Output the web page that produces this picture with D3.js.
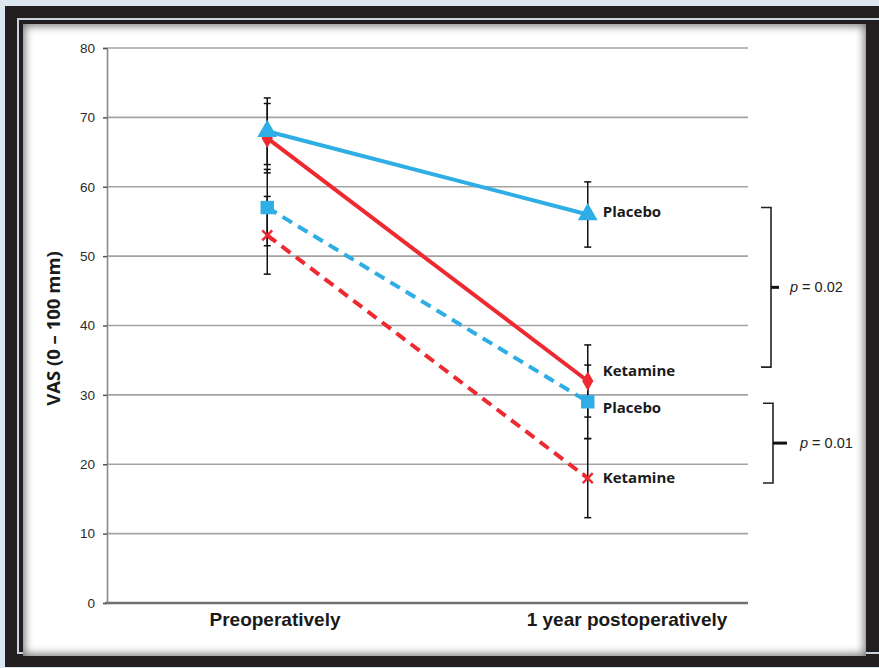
<!DOCTYPE html>
<html>
<head>
<meta charset="utf-8">
<script src="https://cdn.jsdelivr.net/npm/d3@7"></script>
<style>
  html, body { margin: 0; padding: 0; }
  body { width: 879px; height: 668px; background: #dbe5f0; position: relative; overflow: hidden; }
  #outer { position: absolute; left: 5px; top: 6px; width: 900px; height: 661px; background: #231f20; }
  #rule { position: absolute; left: 12px; top: 12px; width: 900px; height: 636px; border: 2px solid #c9d3de; box-sizing: border-box; }
  #panel { position: absolute; left: 18px; top: 18px; width: 843px; height: 632px; background: #fff; box-shadow: inset 0 0 9px 2px #777; }
  svg { position: absolute; left: 0; top: 0; }
</style>
</head>
<body>
<div id="outer"><div id="rule"></div><div id="panel"></div></div>
<svg id="chart" width="879" height="668"></svg>
<script>
// categories and ticks
var categories = ['Preoperatively', '1 year postoperatively'];
var yTicks = [0, 10, 20, 30, 40, 50, 60, 70, 80];

// series: mean values and error (+/-)
var placeboSolid = [68, 56];
var placeboSolidErr = [4.8, 4.7];
var ketamineSolid = [67, 32];
var ketamineSolidErr = [5.0, 5.2];
var placeboDashed = [57, 29];
var placeboDashedErr = [5.5, 5.3];
var ketamineDashed = [53, 18];
var ketamineDashedErr = [5.6, 5.7];

// p-value brackets (VAS units)
var bracketTop = [57, 28.8];
var bracketBottom = [34, 17.3];
var bracketLabels = ['0.02', '0.01'];

var blue = '#2eaee4';
var red = '#ee2a30';

var series = [
  { name: 'Placebo', values: placeboSolid, err: placeboSolidErr, color: blue, dash: null, marker: 'triangle' },
  { name: 'Ketamine', values: ketamineSolid, err: ketamineSolidErr, color: red, dash: null, marker: 'diamond' },
  { name: 'Placebo', values: placeboDashed, err: placeboDashedErr, color: blue, dash: '11,7', marker: 'square' },
  { name: 'Ketamine', values: ketamineDashed, err: ketamineDashedErr, color: red, dash: '11,7', marker: 'cross' }
];

var svg = d3.select('#chart');

var x = d3.scaleBand().domain(categories).range([107, 748]);
var y = d3.scaleLinear().domain([0, 80]).range([603, 48]);
var labelX = d3.scalePoint().domain(categories).range([275, 627]);
var cx = function(i) { return x(categories[i]) + x.bandwidth() / 2; };

/**
 * Gridlines
 */
svg.append('g').selectAll('line')
  .data(yTicks.filter(function(t) { return t > 0; }))
  .enter().append('line')
  .attr('x1', 107).attr('x2', 748)
  .attr('y1', function(d) { return y(d); }).attr('y2', function(d) { return y(d); })
  .attr('stroke', '#a3a3a3').attr('stroke-width', 1.6);

/**
 * Y axis
 */
var yAxis = svg.append('g')
  .attr('transform', 'translate(107,0)')
  .call(d3.axisLeft(y).tickValues(yTicks).tickSize(4).tickPadding(8));
yAxis.select('.domain').attr('stroke', '#8a8a8a').attr('stroke-width', 1.6);
yAxis.selectAll('.tick line').attr('stroke', '#555').attr('stroke-width', 1.5);
yAxis.selectAll('.tick text')
  .attr('font-family', 'Liberation Sans Narrow, Liberation Sans, sans-serif')
  .attr('font-size', 13.5).attr('fill', '#2a2a2a');

// x axis line
svg.append('line')
  .attr('x1', 105).attr('x2', 748)
  .attr('y1', y(0)).attr('y2', y(0))
  .attr('stroke', '#707070').attr('stroke-width', 2.6);

// category labels
svg.append('g').selectAll('text')
  .data(categories)
  .enter().append('text')
  .attr('x', function(d) { return labelX(d); })
  .attr('y', 626)
  .attr('text-anchor', 'middle')
  .attr('font-family', 'Liberation Sans Narrow, Liberation Sans, sans-serif')
  .attr('font-weight', 'bold').attr('font-size', 19).attr('fill', '#1a1a1a')
  .text(function(d) { return d; });

// y label
svg.append('text')
  .attr('transform', 'translate(60,' + (y(40) + 3) + ') rotate(-90)')
  .attr('text-anchor', 'middle')
  .attr('font-family', 'Open Sans, sans-serif')
  .attr('font-weight', 'bold').attr('font-size', 18.5).attr('fill', '#1a1a1a')
  .text('VAS (0 \u2013 100 mm)');

/**
 * Lines
 */
var line = d3.line()
  .x(function(d, i) { return cx(i); })
  .y(function(d) { return y(d); });

svg.append('g').selectAll('path')
  .data(series)
  .enter().append('path')
  .attr('d', function(s) { return line(s.values); })
  .attr('fill', 'none')
  .attr('stroke', function(s) { return s.color; })
  .attr('stroke-width', 4)
  .attr('stroke-dasharray', function(s) { return s.dash; });

/**
 * Error bars
 */
var errData = [];
series.forEach(function(s) {
  s.values.forEach(function(v, i) { errData.push({ i: i, lo: v - s.err[i], hi: v + s.err[i] }); });
});
var eb = svg.append('g').attr('stroke', '#111').attr('stroke-width', 1.5);
errData.forEach(function(e) {
  eb.append('line').attr('x1', cx(e.i)).attr('x2', cx(e.i)).attr('y1', y(e.hi)).attr('y2', y(e.lo));
  [e.lo, e.hi].forEach(function(v) {
    eb.append('line').attr('x1', cx(e.i) - 3.5).attr('x2', cx(e.i) + 3.5).attr('y1', y(v)).attr('y2', y(v));
  });
});

/**
 * Markers (drawn back to front so the triangle sits on the diamond)
 */
var markerOrder = [1, 0, 2, 3];
var symbols = { triangle: d3.symbolTriangle, diamond: d3.symbolDiamond, square: d3.symbolSquare };
var sizes = { triangle: 170, diamond: 110, square: 180 };
markerOrder.forEach(function(k) {
  var s = series[k];
  s.values.forEach(function(v, i) {
    var g = svg.append('g').attr('transform', 'translate(' + cx(i) + ',' + y(v) + ')');
    if (s.marker === 'cross') {
      g.append('path').attr('d', 'M-5,-5L5,5M-5,5L5,-5')
        .attr('stroke', s.color).attr('stroke-width', 2.4);
    } else {
      g.append('path').attr('d', d3.symbol().type(symbols[s.marker]).size(sizes[s.marker])())
        .attr('fill', s.color);
    }
  });
});

// series labels at end of lines
var labelY = [212, 371, 408, 478];
svg.append('g').selectAll('text')
  .data(series)
  .enter().append('text')
  .attr('x', cx(1) + 15)
  .attr('y', function(s, k) { return labelY[k]; })
  .attr('dy', '0.35em')
  .attr('font-family', 'Open Sans, sans-serif')
  .attr('font-weight', 'bold').attr('font-size', 15).attr('fill', '#1a1a1a')
  .text(function(s) { return s.name; });

/**
 * p-value brackets
 */
var bx = [771, 773];
bracketLabels.forEach(function(lab, k) {
  var t = y(bracketTop[k]), b = y(bracketBottom[k]), m = (t + b) / 2;
  svg.append('path')
    .attr('d', 'M' + (bx[k] - 10) + ',' + t + 'L' + bx[k] + ',' + t + 'L' + bx[k] + ',' + b + 'L' + (bx[k] - 10) + ',' + b)
    .attr('fill', 'none').attr('stroke', '#222').attr('stroke-width', 1.6);
  svg.append('line')
    .attr('x1', bx[k]).attr('x2', bx[k] + 8 + k * 6)
    .attr('y1', m).attr('y2', m)
    .attr('stroke', '#111').attr('stroke-width', 3);
  var tx = svg.append('text')
    .attr('x', bx[k] + 19 + k * 8).attr('y', m).attr('dy', '0.35em')
    .attr('font-family', 'Liberation Sans, sans-serif')
    .attr('font-size', 14.5).attr('fill', '#222');
  tx.append('tspan').attr('font-style', 'italic').text('p');
  tx.append('tspan').text(' = ' + lab);
});
</script>
</body>
</html>
